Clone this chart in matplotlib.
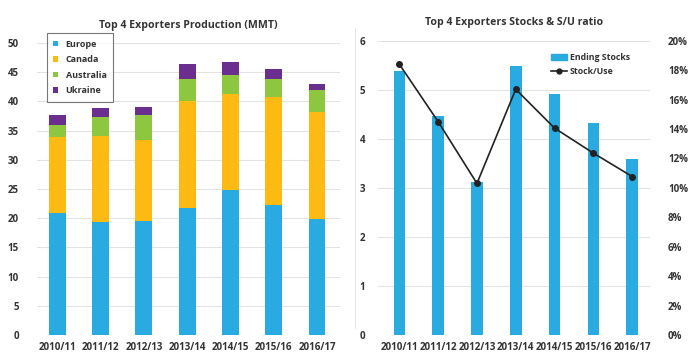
import matplotlib
matplotlib.use("Agg")
import matplotlib.pyplot as plt
from matplotlib.lines import Line2D
from matplotlib.patches import Patch
import numpy as np

plt.rcParams['font.family'] = ['Open Sans', 'DejaVu Sans']
plt.rcParams['font.weight'] = 'bold'

years = ["2010/11", "2011/12", "2012/13", "2013/14", "2014/15", "2015/16", "2016/17"]
europe = [20.9, 19.3, 19.5, 21.7, 24.8, 22.3, 19.9]
canada = [13.0, 14.7, 13.9, 18.3, 16.4, 18.4, 18.3]
australia = [2.0, 3.4, 4.2, 3.9, 3.4, 3.2, 3.7]
ukraine = [1.7, 1.5, 1.5, 2.5, 2.2, 1.7, 1.1]

ending_stocks = [5.38, 4.47, 3.12, 5.49, 4.91, 4.32, 3.58]
stock_use = [18.4, 14.5, 10.3, 16.7, 14.06, 12.36, 10.77]

c_eu = "#29ABE2"
c_ca = "#FDBA12"
c_au = "#8DC63F"
c_uk = "#6A2E8E"
txt = "#333333"

fig = plt.figure(figsize=(6.95, 3.58), dpi=100)
ax1 = fig.add_axes([37/695, 23/358, (340-37)/695, (335-43)/358])
ax2 = fig.add_axes([378/695, 23/358, (650-378)/695, (335-40.7)/358])

x = np.arange(len(years))
w1 = 0.39
b = np.zeros(len(years))
for vals, col, lab in [(europe, c_eu, "Europe"), (canada, c_ca, "Canada"),
                       (australia, c_au, "Australia"), (ukraine, c_uk, "Ukraine")]:
    ax1.bar(x, vals, w1, bottom=b, color=col, label=lab, zorder=3)
    b = b + np.array(vals)

ax1.set_ylim(0, 50)
ax1.set_yticks(range(0, 51, 5))
ax1.set_xlim(-0.47, 6.53)
ax1.set_xticks(x)
ax1.set_xticklabels(years)
ax1.grid(axis='y', color='#E3E3E3', linewidth=0.8, zorder=0)
for s in ax1.spines.values():
    s.set_visible(False)
ax1.tick_params(length=0, labelsize=7, colors=txt)
ax1.tick_params(axis='y', pad=13)
ax1.tick_params(axis='x', pad=5)
ax1.set_title("Top 4 Exporters Production (MMT)", fontsize=7.6, fontweight='bold', color=txt, pad=11)
leg1 = ax1.legend(loc='upper left', bbox_to_anchor=(0.033, 1.033), borderaxespad=0,
                  fontsize=6.5, frameon=True,
                  fancybox=False, edgecolor='#555555', handlelength=0.55, handleheight=0.55,
                  handletextpad=0.8, labelspacing=0.72, borderpad=0.7)
leg1.get_frame().set_linewidth(0.8)
for t in leg1.get_texts():
    t.set_color(txt)

w2 = 0.3
ax2.bar(x, ending_stocks, w2, color=c_eu, zorder=3)
ax2.set_ylim(0, 6)
ax2.set_yticks(range(0, 7))
ax2.set_xlim(-0.55, 6.46)
ax2.set_xticks(x)
ax2.set_xticklabels(years)
ax2.grid(axis='y', color='#E3E3E3', linewidth=0.8, zorder=0)
for s in ax2.spines.values():
    s.set_visible(False)
ax2.tick_params(length=0, labelsize=7, colors=txt)
ax2.tick_params(axis='y', pad=9)
ax2.tick_params(axis='x', pad=5)
ax2.set_title("Top 4 Exporters Stocks & S/U ratio", fontsize=7.6, fontweight='bold', color=txt, pad=11)

ax3 = ax2.twinx()
ax3.plot(x, stock_use, color='#222222', linewidth=1.2, marker='o', markersize=4, zorder=5)
ax3.set_ylim(0, 20)
ax3.set_yticks(range(0, 21, 2))
ax3.set_yticklabels([f"{v}%" for v in range(0, 21, 2)])
for s in ax3.spines.values():
    s.set_visible(False)
ax3.tick_params(length=0, labelsize=7, colors=txt, pad=13)

handles = [Patch(color=c_eu), Line2D([0], [0], color='#222222', marker='o', markersize=3.5, linewidth=1.2)]
leg2 = ax3.legend(handles, ["Ending Stocks", "Stock/Use"], loc='upper right', bbox_to_anchor=(0.955, 0.985),
                  fontsize=6.3, frameon=False, handlelength=1.8, handleheight=0.6,
                  handletextpad=0.3, labelspacing=0.6)
for t in leg2.get_texts():
    t.set_color(txt)

fig.add_artist(Line2D([355/695, 355/695], [30/358, 330/358], color='#E6E6E6', linewidth=0.8))

fig.savefig("out.png", dpi=100)
